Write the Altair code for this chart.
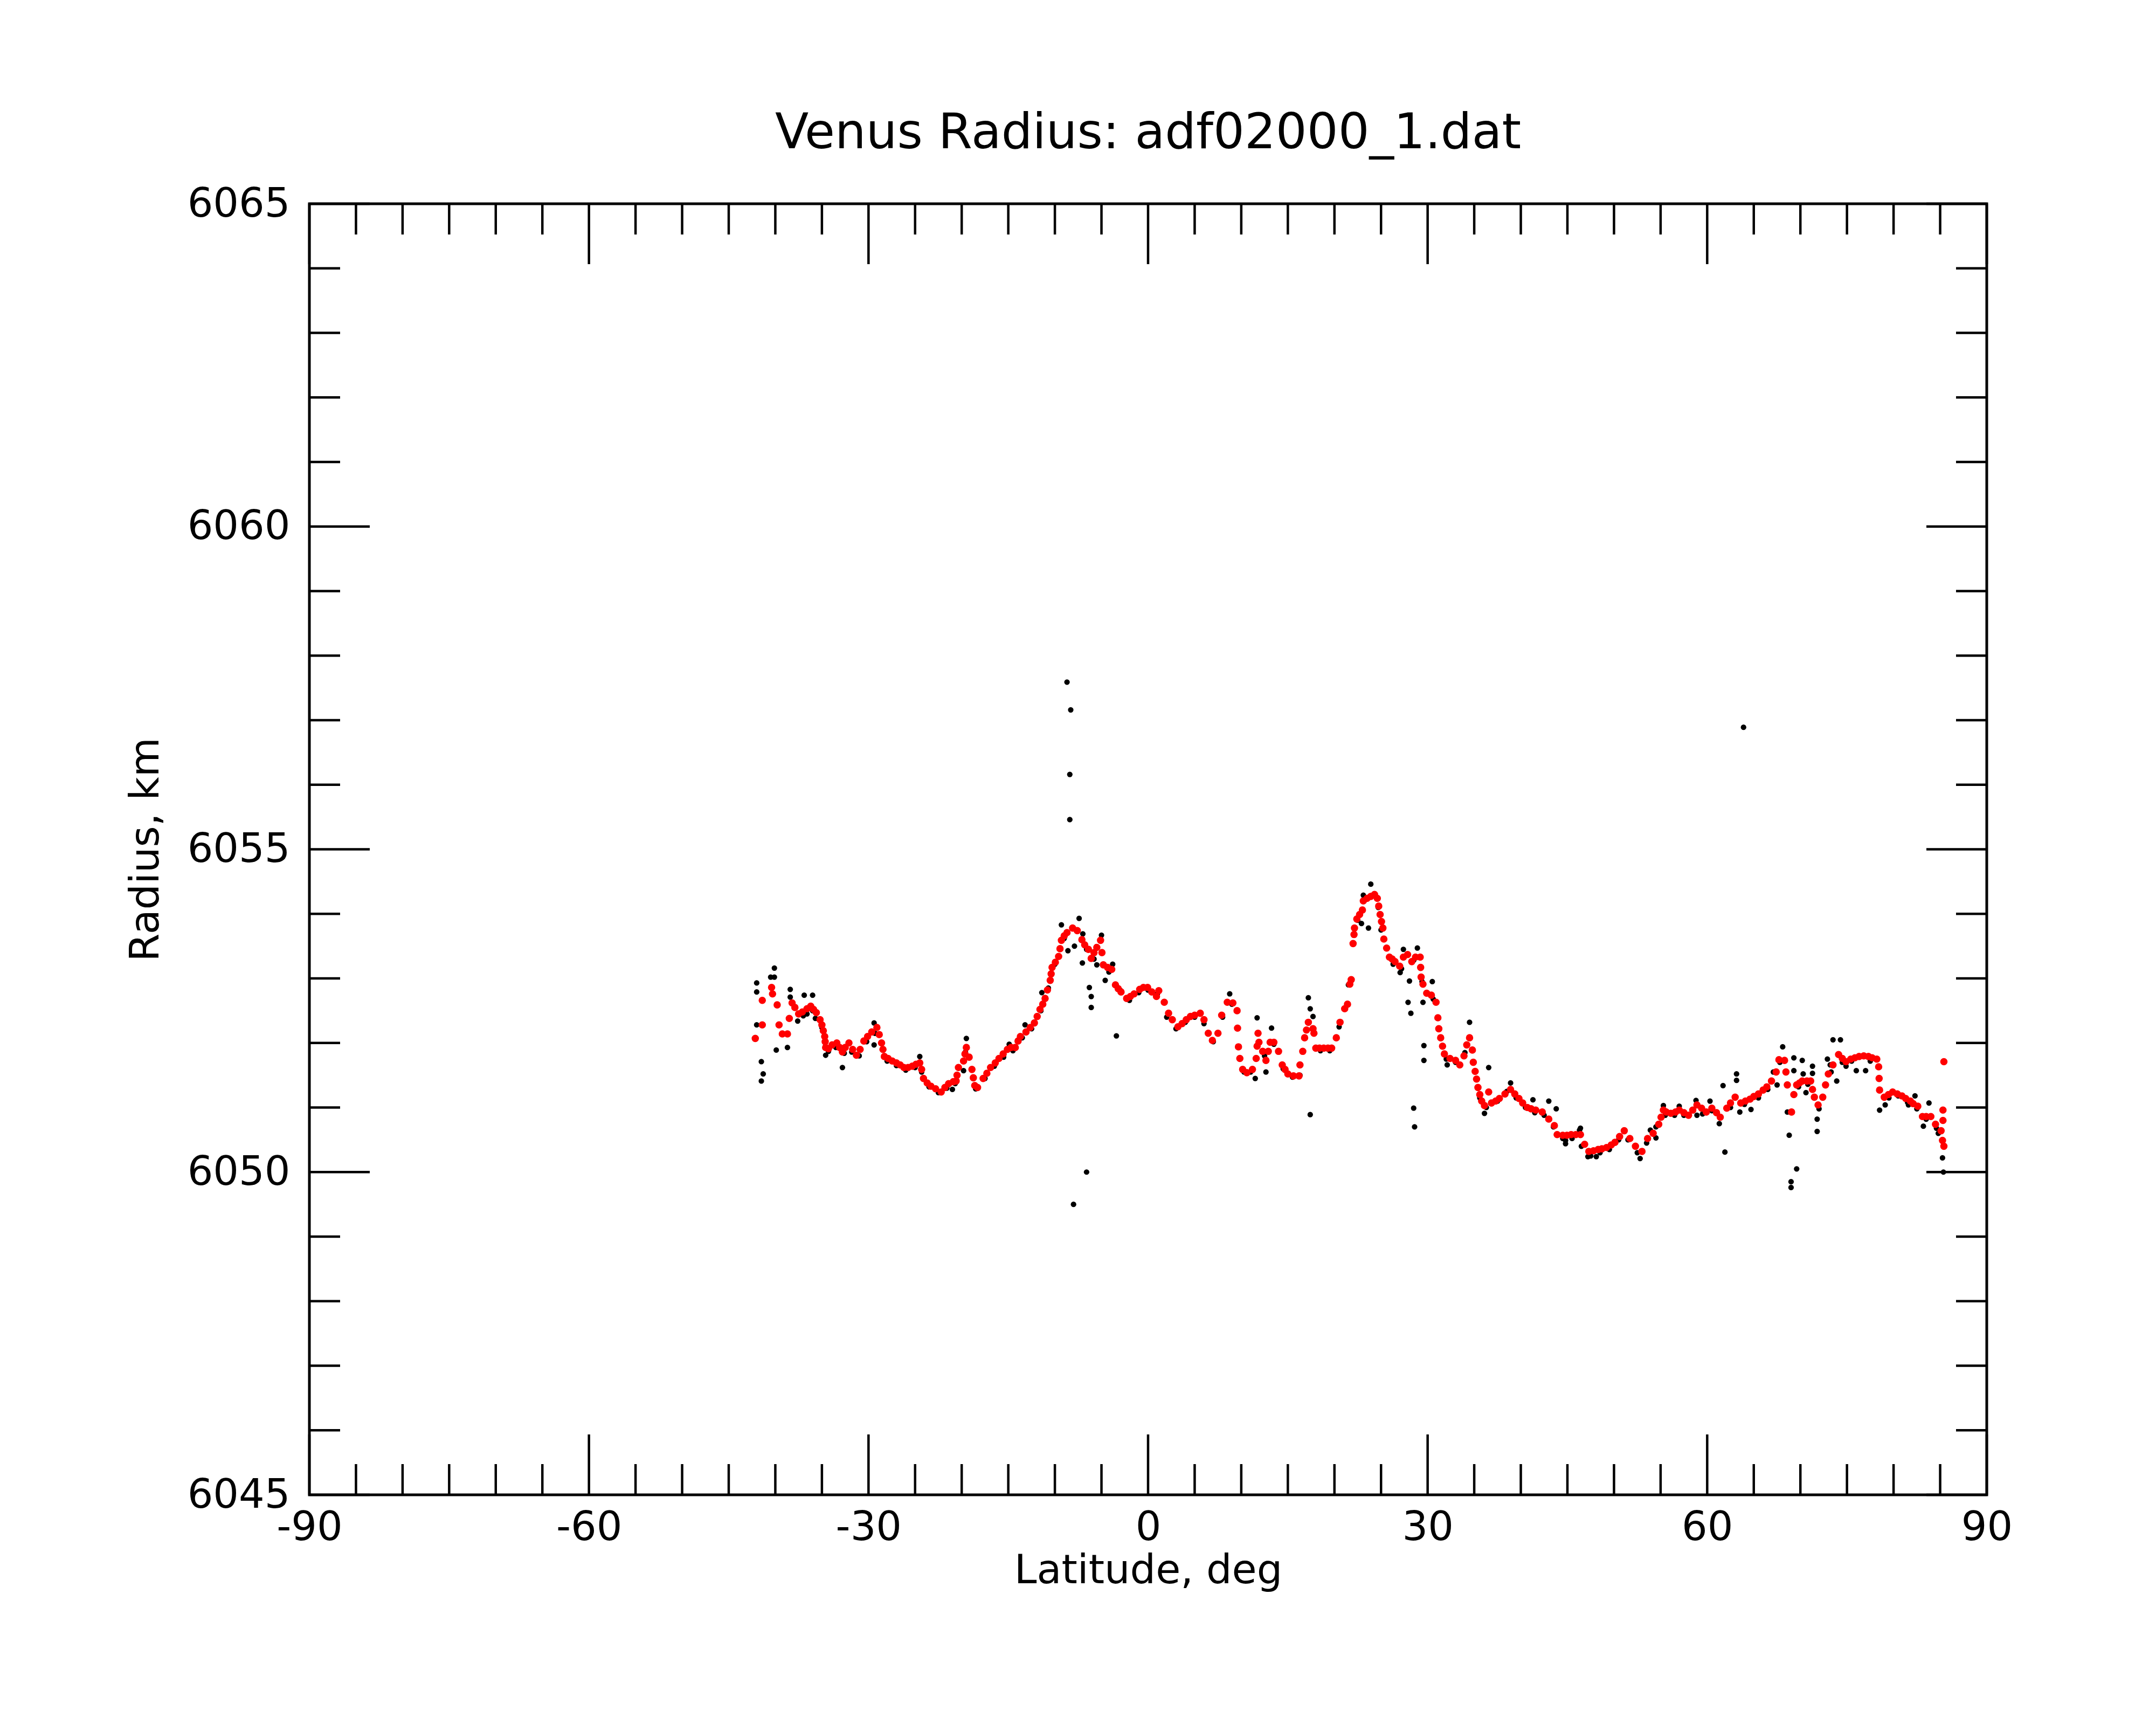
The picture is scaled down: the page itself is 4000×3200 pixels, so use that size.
import altair as alt
import pandas as pd

# ---------------- data ----------------
red_points = [
    (-42.15, 6052.07), (-41.4, 6052.28), (-41.4, 6052.66), (-40.4, 6052.86), (-40.3, 6052.76),
    (-39.8, 6052.59), (-39.6, 6052.28), (-39.25, 6052.14), (-38.7, 6052.14), (-38.5, 6052.38),
    (-38.2, 6052.62), (-37.9, 6052.55), (-37.5, 6052.45), (-37.1, 6052.48), (-36.6, 6052.53),
    (-36.2, 6052.57), (-35.9, 6052.52), (-35.6, 6052.47), (-35.2, 6052.36), (-35.0, 6052.28),
    (-34.85, 6052.19), (-34.7, 6052.10), (-34.65, 6052.02), (-34.6, 6051.93), (-34.3, 6051.91),
    (-33.9, 6051.97), (-33.4, 6052.00),
    (-33.1, 6051.93), (-32.8, 6051.86), (-32.5, 6051.93), (-32.1, 6052.00), (-31.7, 6051.90),
    (-31.3, 6051.81), (-30.9, 6051.90), (-30.5, 6052.03), (-30.1, 6052.10), (-29.65, 6052.17),
    (-29.1, 6052.24), (-28.85, 6052.13), (-28.6, 6052.00), (-28.45, 6051.90), (-28.3, 6051.79),
    (-27.9, 6051.76), (-27.45, 6051.72),
    (-27.0, 6051.69), (-26.6, 6051.66), (-26.2, 6051.62), (-25.75, 6051.62), (-25.3, 6051.64),
    (-24.9, 6051.67), (-24.5, 6051.69), (-24.3, 6051.59), (-24.1, 6051.45), (-23.7, 6051.38),
    (-23.3, 6051.33), (-22.8, 6051.29), (-22.2, 6051.24), (-21.8, 6051.31), (-21.4, 6051.37),
    (-20.9, 6051.40), (-20.6, 6051.41), (-20.5, 6051.50), (-20.35, 6051.62), (-19.8, 6051.72),
    (-19.65, 6051.83), (-19.5, 6051.93),
    (-19.2, 6051.78), (-18.9, 6051.59), (-18.75, 6051.46), (-18.6, 6051.34), (-18.3, 6051.31),
    (-17.7, 6051.45),
    (-17.3, 6051.53), (-16.9, 6051.62), (-16.4, 6051.69), (-16.0, 6051.76), (-15.55, 6051.83),
    (-15.1, 6051.90), (-14.7, 6051.93), (-14.25, 6051.93), (-13.95, 6052.03), (-13.7, 6052.10),
    (-13.1, 6052.17), (-12.65, 6052.24), (-12.2, 6052.31), (-11.9, 6052.41), (-11.6, 6052.52),
    (-11.3, 6052.60), (-11.05, 6052.69), (-10.8, 6052.82), (-10.5, 6052.97), (-10.4, 6053.07),
    (-10.3, 6053.17), (-9.95, 6053.25), (-9.6, 6053.34), (-9.45, 6053.46),
    (-9.3, 6053.59), (-9.0, 6053.66), (-8.7, 6053.71), (-8.1, 6053.78), (-7.6, 6053.74),
    (-7.1, 6053.60), (-6.8, 6053.52), (-6.4, 6053.45), (-6.1, 6053.31), (-5.8, 6053.40),
    (-5.5, 6053.48), (-5.1, 6053.59), (-4.95, 6053.40),
    (-4.8, 6053.21), (-4.35, 6053.17), (-3.9, 6053.14), (-3.5, 6052.90), (-3.2, 6052.84),
    (-2.9, 6052.79), (-2.3, 6052.69),
    (-1.9, 6052.72), (-1.5, 6052.76), (-0.9, 6052.83), (-0.5, 6052.86), (-0.05, 6052.86),
    (0.4, 6052.79), (0.9, 6052.72), (1.15, 6052.81), (1.74, 6052.63), (2.2, 6052.46),
    (2.6, 6052.36), (3.2, 6052.25), (3.65, 6052.30), (4.1, 6052.36), (4.55, 6052.41),
    (5.0, 6052.43), (5.6, 6052.46), (6.0, 6052.36), (6.46, 6052.15), (6.9, 6052.04),
    (7.5, 6052.15), (7.9, 6052.43), (8.5, 6052.63), (9.1, 6052.62), (9.55, 6052.50),
    (9.6, 6052.23), (9.7, 6051.94), (9.85, 6051.76), (10.15, 6051.59), (10.6, 6051.54),
    (11.2, 6051.59), (11.6, 6051.76), (11.7, 6051.95), (11.8, 6052.15), (11.9, 6052.01),
    (12.3, 6051.87), (12.65, 6051.73), (12.9, 6051.87), (13.1, 6052.01), (13.5, 6052.01),
    (14.0, 6051.87), (14.4, 6051.66), (14.7, 6051.59),
    (15.0, 6051.52), (15.6, 6051.49), (16.2, 6051.49), (16.3, 6051.66), (16.6, 6051.87),
    (16.8, 6052.08), (17.0, 6052.20), (17.2, 6052.32), (17.7, 6052.22), (17.8, 6052.15),
    (18.0, 6051.92),
    (18.4, 6051.92), (18.85, 6051.92), (19.3, 6051.92), (19.7, 6051.92), (20.2, 6052.08),
    (20.6, 6052.32), (21.1, 6052.53), (21.4, 6052.60), (21.65, 6052.91), (21.8, 6052.98),
    (22.0, 6053.54), (22.1, 6053.68), (22.15, 6053.78), (22.4, 6053.92), (22.7, 6053.99),
    (23.0, 6054.06), (23.1, 6054.20), (23.5, 6054.24), (23.9, 6054.27), (24.3, 6054.30),
    (24.6, 6054.24), (24.75, 6054.12), (24.9, 6053.99), (25.05, 6053.88), (25.2, 6053.78),
    (25.3, 6053.61), (25.6, 6053.47),
    (25.9, 6053.33), (26.2, 6053.30), (26.5, 6053.26), (27.0, 6053.19), (27.4, 6053.33),
    (27.85, 6053.37), (28.3, 6053.26), (28.7, 6053.33), (29.2, 6053.33), (29.25, 6053.17),
    (29.3, 6053.02),
    (29.5, 6052.91), (29.9, 6052.77), (30.4, 6052.74), (30.9, 6052.63), (31.1, 6052.39),
    (31.2, 6052.22), (31.4, 6052.08), (31.6, 6051.95), (31.8, 6051.83), (32.4, 6051.76),
    (33.0, 6051.73),
    (33.45, 6051.66), (33.9, 6051.80), (34.2, 6051.97), (34.5, 6052.08), (34.8, 6051.89),
    (34.9, 6051.70), (35.1, 6051.56), (35.25, 6051.44), (35.4, 6051.31), (35.6, 6051.20),
    (35.8, 6051.10), (36.1, 6051.03),
    (36.55, 6051.24), (36.85, 6051.07), (37.3, 6051.10), (37.7, 6051.14), (38.3, 6051.21),
    (38.9, 6051.28), (39.35, 6051.21), (39.8, 6051.14), (40.2, 6051.07), (40.7, 6051.00),
    (41.1, 6050.98), (41.6, 6050.96), (42.3, 6050.93), (43.0, 6050.82), (43.6, 6050.72),
    (43.9, 6050.58), (44.5, 6050.57), (44.95, 6050.57), (45.4, 6050.58), (45.9, 6050.58),
    (46.4, 6050.58), (46.85, 6050.43),
    (47.3, 6050.32), (47.8, 6050.33), (48.3, 6050.35), (48.7, 6050.36), (49.2, 6050.38),
    (49.7, 6050.42), (50.1, 6050.46), (50.6, 6050.55), (51.1, 6050.64), (51.7, 6050.52),
    (52.3, 6050.40), (53.0, 6050.32), (53.6, 6050.52), (54.2, 6050.60), (54.8, 6050.74),
    (55.05, 6050.85),
    (55.3, 6050.96), (55.6, 6050.93), (56.1, 6050.91), (56.6, 6050.93), (57.0, 6050.96),
    (57.5, 6050.92), (58.0, 6050.88), (58.45, 6050.96), (58.9, 6051.04), (59.4, 6050.99),
    (59.9, 6050.93), (60.5, 6050.99), (61.0, 6050.92), (61.4, 6050.85), (62.1, 6050.99),
    (62.5, 6051.07), (63.0, 6051.16), (63.6, 6051.07), (64.1, 6051.10), (64.6, 6051.13),
    (65.0, 6051.17), (65.5, 6051.21), (66.0, 6051.27), (66.4, 6051.32), (66.9, 6051.41),
    (67.4, 6051.55), (67.7, 6051.74), (68.3, 6051.73), (68.45, 6051.55), (68.6, 6051.35),
    (69.05, 6050.93),
    (69.3, 6051.20), (69.6, 6051.35), (69.9, 6051.38), (70.2, 6051.41), (70.7, 6051.41),
    (71.1, 6051.41), (71.3, 6051.28), (71.5, 6051.16), (71.9, 6051.04), (72.4, 6051.16),
    (72.7, 6051.35),
    (73.0, 6051.52), (73.5, 6051.66), (74.1, 6051.82), (74.5, 6051.76), (74.9, 6051.71),
    (75.4, 6051.75),
    (75.85, 6051.77), (76.3, 6051.79), (76.8, 6051.80), (77.3, 6051.79), (77.7, 6051.77),
    (78.2, 6051.75), (78.4, 6051.63), (78.45, 6051.45), (78.5, 6051.27), (79.0, 6051.16),
    (79.45, 6051.20),
    (79.9, 6051.24), (80.4, 6051.21), (80.9, 6051.18), (81.3, 6051.14), (81.8, 6051.10),
    (82.1, 6051.06), (82.6, 6051.02), (83.1, 6050.86), (83.5, 6050.86), (84.0, 6050.86),
    (84.5, 6050.74), (85.1, 6050.64), (85.25, 6050.49), (85.3, 6050.96), (85.3, 6050.80),
    (85.4, 6050.40), (85.4, 6051.71),
]

black_points = [
    # points lying along the profile
    (-37.0, 6052.42), (-36.0, 6052.50), (-35.0, 6052.24), (-34.3, 6051.87), (-33.5, 6051.93),
    (-32.6, 6051.84), (-31.8, 6051.86), (-31.0, 6051.80), (-30.2, 6052.02), (-29.3, 6052.15),
    (-28.0, 6051.72), (-27.0, 6051.65), (-26.0, 6051.58), (-25.0, 6051.62), (-24.3, 6051.55),
    (-23.5, 6051.32), (-22.5, 6051.23), (-21.6, 6051.30), (-20.7, 6051.37), (-19.6, 6051.86),
    (-18.5, 6051.29), (-17.5, 6051.45), (-16.5, 6051.64), (-15.5, 6051.78), (-14.5, 6051.88),
    (-13.5, 6052.08), (-12.5, 6052.22), (-11.5, 6052.50), (-10.7, 6052.85), (-10.0, 6053.22),
    (-9.0, 6053.62), (-6.6, 6053.45), (-5.8, 6053.30), (-4.2, 6053.10), (-3.0, 6052.82),
    (-2.0, 6052.66), (-1.0, 6052.78), (0.0, 6052.82), (1.0, 6052.76), (2.0, 6052.40),
    (3.0, 6052.22), (4.0, 6052.32), (5.0, 6052.40), (6.0, 6052.30), (7.0, 6052.02),
    (8.0, 6052.40), (9.0, 6052.60), (10.3, 6051.55), (11.0, 6051.55), (12.5, 6051.80),
    (13.5, 6051.98), (14.5, 6051.60), (15.5, 6051.47), (16.3, 6051.50), (18.5, 6051.88),
    (19.5, 6051.88), (20.5, 6052.25), (21.5, 6052.90), (22.5, 6053.90), (24.7, 6054.10),
    (26.3, 6053.22), (27.2, 6053.15), (28.5, 6053.28), (29.4, 6052.95), (30.6, 6052.68),
    (32.0, 6051.75), (33.0, 6051.70), (34.0, 6051.85), (35.6, 6051.15), (36.3, 6051.00),
    (37.5, 6051.10), (38.5, 6051.25), (39.5, 6051.15), (40.5, 6051.00), (41.5, 6050.92),
    (42.5, 6050.88), (43.5, 6050.70), (44.5, 6050.52), (45.5, 6050.52), (46.5, 6050.40),
    (47.5, 6050.25), (48.5, 6050.30), (49.5, 6050.35), (50.5, 6050.50), (51.5, 6050.50),
    (52.5, 6050.30), (53.5, 6050.45), (54.5, 6050.70), (55.5, 6050.88), (56.5, 6050.88),
    (57.5, 6050.88), (58.5, 6050.95), (59.5, 6050.90), (60.5, 6050.95), (62.5, 6051.00),
    (64.0, 6051.05), (65.5, 6051.15), (66.5, 6051.28), (67.8, 6051.70), (69.8, 6051.32),
    (70.8, 6051.36), (72.0, 6050.98), (73.3, 6051.55), (74.5, 6051.70), (75.5, 6051.72),
    (77.5, 6051.72), (79.5, 6051.15), (80.5, 6051.18), (81.5, 6051.08), (82.5, 6050.98),
    (83.5, 6050.82), (84.6, 6050.68),
    # scattered points away from the profile
    (-42.0, 6052.93), (-42.0, 6052.79), (-42.0, 6052.28), (-41.5, 6051.71), (-41.3, 6051.52),
    (-41.5, 6051.41), (-40.1, 6053.16), (-40.1, 6053.02), (-40.5, 6053.02), (-39.9, 6051.89),
    (-38.7, 6051.93), (-38.4, 6052.83), (-38.4, 6052.71), (-37.6, 6052.34), (-36.9, 6052.74),
    (-36.0, 6052.74), (-36.6, 6052.45), (-35.7, 6052.38), (-34.6, 6051.81), (-32.8, 6051.62),
    (-29.4, 6052.31), (-29.4, 6051.97), (-24.5, 6051.79), (-21.0, 6051.28), (-19.8, 6051.57),
    (-19.5, 6052.07), (-13.2, 6052.28), (-14.9, 6051.98), (-11.4, 6052.78), (-9.3, 6053.83),
    (-7.4, 6053.93), (-7.0, 6053.69), (-8.6, 6053.43), (-7.9, 6053.50), (-7.05, 6053.24),
    (-6.3, 6052.86), (-6.1, 6052.72), (-6.1, 6052.55), (-5.5, 6053.21), (-5.0, 6053.67),
    (-3.8, 6053.22), (-4.6, 6052.97), (-3.4, 6052.11), (-6.6, 6050.00), (-8.0, 6049.50),
    (-8.7, 6057.59), (-8.3, 6057.16), (-8.4, 6056.16), (-8.4, 6055.46),
    (8.76, 6052.76), (17.2, 6052.70), (17.4, 6052.53), (17.7, 6052.41), (17.4, 6050.89),
    (11.5, 6051.45), (12.65, 6051.55), (11.7, 6052.39), (13.25, 6052.23), (23.9, 6054.46),
    (23.1, 6054.29), (22.9, 6053.85), (23.65, 6053.78), (25.0, 6053.75), (27.4, 6053.45),
    (28.9, 6053.47), (27.05, 6053.09), (28.05, 6052.96), (27.9, 6052.63), (28.2, 6052.46),
    (29.5, 6052.63), (30.5, 6052.95), (29.6, 6051.96), (29.6, 6051.73), (28.5, 6050.99),
    (28.6, 6050.70), (34.5, 6052.32), (32.1, 6051.66), (36.55, 6051.62), (36.1, 6050.91),
    (38.9, 6051.38), (41.3, 6051.12), (43.0, 6051.10), (43.8, 6050.98), (44.8, 6050.44),
    (46.3, 6050.65),
    (61.9, 6050.31), (61.7, 6051.34), (63.15, 6051.52), (63.15, 6051.42), (61.3, 6050.75),
    (63.5, 6050.93), (64.7, 6050.97), (68.1, 6051.94), (67.1, 6051.55), (67.5, 6051.35),
    (69.3, 6051.77), (70.2, 6051.73), (69.3, 6051.57), (70.3, 6051.52), (68.6, 6050.93),
    (68.8, 6050.57), (69.6, 6050.05), (69.0, 6049.85), (69.0, 6049.76), (71.3, 6051.64),
    (71.3, 6051.53), (70.6, 6051.23), (71.8, 6050.82), (71.8, 6050.63), (72.9, 6051.75),
    (73.5, 6052.05), (74.3, 6052.05), (73.9, 6051.41), (73.2, 6051.66), (74.9, 6051.64),
    (76.0, 6051.57), (77.0, 6051.57), (78.5, 6050.96), (79.1, 6051.04), (81.6, 6051.04),
    (82.3, 6051.18), (83.8, 6051.07), (83.2, 6050.71), (85.25, 6050.22), (85.35, 6050.00),
    (84.8, 6050.60), (52.8, 6050.21), (47.2, 6050.24), (48.1, 6050.24), (44.8, 6050.49),
    (46.4, 6050.68), (53.9, 6050.65), (54.5, 6050.53), (55.3, 6051.03), (57.0, 6051.02),
    (58.8, 6051.11), (60.3, 6051.10), (58.9, 6050.88), (63.9, 6056.89),
]

x_major = [-90, -60, -30, 0, 30, 60, 90]
x_minor = [v for v in range(-85, 90, 5) if v % 30 != 0]
y_major = [6045, 6050, 6055, 6060, 6065]
y_minor = [v for v in range(6046, 6065) if v % 5 != 0]

title_text = "Venus Radius: adf02000_1.dat"
x_title = "Latitude, deg"
y_title = "Radius, km"

# ---------------- chart ----------------
W, H = 3112, 2395
FONT = "DejaVu Sans"
MAJ, MIN = 112, 57

red_df = pd.DataFrame(red_points, columns=["lat", "radius"])
blk_df = pd.DataFrame(black_points, columns=["lat", "radius"])

xs = alt.Scale(domain=[-90, 90], nice=False, zero=False)
ys = alt.Scale(domain=[6045, 6065], nice=False, zero=False)

x_axis = alt.Axis(values=x_major, title=x_title, ticks=False, domain=False, grid=False,
                  labelExpr="'' + datum.value", labelFlush=False, labelOverlap=False, labelLimit=2000,
                  labelFontSize=75, labelFont=FONT, labelColor="black", labelPadding=24,
                  titleFont=FONT, titleFontSize=75, titleFontWeight="normal", titleColor="black",
                  titleBaseline="alphabetic", titleY=163)
y_axis = alt.Axis(values=y_major, title=y_title, ticks=False, domain=False, grid=False,
                  labelExpr="'' + datum.value", labelOverlap=False, labelLimit=2000,
                  labelFontSize=75, labelFont=FONT, labelColor="black", labelPadding=36,
                  titleFont=FONT, titleFontSize=75, titleFontWeight="normal", titleColor="black",
                  titleBaseline="alphabetic", titleAngle=270, titleX=-281, titleY=H / 2)

black = alt.Chart(blk_df).mark_circle(color="black", opacity=1, size=105).encode(
    x=alt.X("lat:Q", scale=xs, axis=x_axis),
    y=alt.Y("radius:Q", scale=ys, axis=y_axis),
)
red = alt.Chart(red_df).mark_circle(color="#ff0000", opacity=1, size=185).encode(
    x=alt.X("lat:Q", scale=xs),
    y=alt.Y("radius:Q", scale=ys),
)

def xticks(vals, length):
    d = pd.DataFrame({"v": vals})
    top = alt.Chart(d).mark_rule(color="black", strokeWidth=4.5).encode(
        x=alt.X("v:Q", scale=xs), y=alt.value(0), y2=alt.value(length))
    bot = alt.Chart(d).mark_rule(color="black", strokeWidth=4.5).encode(
        x=alt.X("v:Q", scale=xs), y=alt.value(H), y2=alt.value(H - length))
    return [top, bot]

def yticks(vals, length):
    d = pd.DataFrame({"v": vals})
    left = alt.Chart(d).mark_rule(color="black", strokeWidth=4.5).encode(
        y=alt.Y("v:Q", scale=ys), x=alt.value(0), x2=alt.value(length))
    right = alt.Chart(d).mark_rule(color="black", strokeWidth=4.5).encode(
        y=alt.Y("v:Q", scale=ys), x=alt.value(W), x2=alt.value(W - length))
    return [left, right]

layers = [black, red] + xticks(x_major, MAJ) + xticks(x_minor, MIN) + yticks(y_major, MAJ) + yticks(y_minor, MIN)

chart = alt.layer(*layers).properties(
    width=W, height=H,
    title=alt.TitleParams(title_text, fontSize=91, font=FONT, fontWeight="normal", color="black",
                          anchor="middle", frame="group", baseline="alphabetic", offset=97, dy=122),
    autosize=alt.AutoSizeParams(type="none"),
    padding={"left": 566, "top": 370, "right": 306, "bottom": 419},
    background="white",
).configure_view(stroke="black", strokeWidth=5)

chart.save("out.html", embed_options={"renderer": "svg", "actions": False})
